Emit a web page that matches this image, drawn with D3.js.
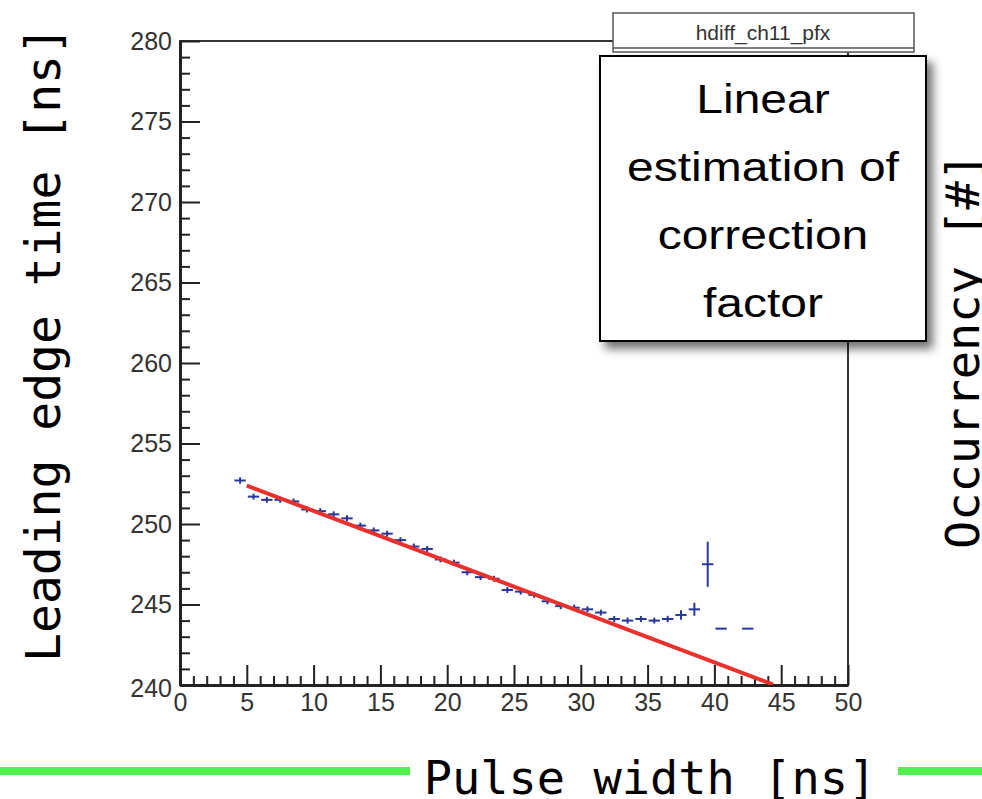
<!DOCTYPE html>
<html>
<head>
<style>
body { margin: 0; background: #fff; }
.tick text { font-family: "Liberation Sans", Arial, sans-serif; font-size: 25px; fill: #333; }
.tick line { stroke: #222; stroke-width: 2px; }
.domain { stroke: #222; stroke-width: 3px; }
</style>
<script src="https://d3js.org/d3.v7.min.js"></script>
</head>
<body>
<svg id="chart" width="982" height="799"></svg>
<script>
// bin centres [ns], profile means [ns], errors
var binCenters = [4.5, 5.5, 6.5, 7.5, 8.5, 9.5, 10.5, 11.5, 12.5, 13.5, 14.5, 15.5, 16.5, 17.5, 18.5, 19.5,
  20.5, 21.5, 22.5, 23.5, 24.5, 25.5, 26.5, 27.5, 28.5, 29.5, 30.5, 31.5, 32.5, 33.5, 34.5, 35.5,
  36.5, 37.5, 38.5, 39.5, 40.5, 42.5];
var meanTimes = [252.7, 251.7, 251.5, 251.5, 251.4, 250.9, 250.8, 250.6, 250.35, 249.9, 249.6, 249.4, 249.0, 248.6, 248.45, 247.8,
  247.6, 247.0, 246.7, 246.6, 245.9, 245.8, 245.6, 245.2, 244.9, 244.8, 244.7, 244.5, 244.1, 244.0, 244.1, 244.0,
  244.1, 244.35, 244.7, 247.5, 243.5, 243.5];
var meanErrors = [0.2, 0.1, 0.1, 0.1, 0.1, 0.1, 0.1, 0.1, 0.1, 0.1, 0.1, 0.1, 0.1, 0.1, 0.1, 0.1,
  0.1, 0.1, 0.1, 0.1, 0.1, 0.1, 0.1, 0.1, 0.1, 0.1, 0.1, 0.15, 0.15, 0.15, 0.15, 0.15,
  0.2, 0.3, 0.4, 1.4, 0, 0];
var binWidth = 1;

// linear fit end points [width, time]
var fitLine = [[5, 252.38], [44.4, 240.03]];

var xMajor = [0, 5, 10, 15, 20, 25, 30, 35, 40, 45, 50];
var yMajor = [240, 245, 250, 255, 260, 265, 270, 275, 280];

var histTitle = "hdiff_ch11_pfx";
var noteLines = ["Linear", "estimation of", "correction", "factor"];
var xTitle = "Pulse width [ns]";
var yTitle = "Leading edge time [ns]";
var y2Title = "Occurrency [#]";

var svg = d3.select("#chart");
var pL = 180, pR = 848, pT = 41, pB = 685;

var x = d3.scaleLinear().domain([0, 50]).range([pL, pR]);
var y = d3.scaleLinear().domain([240, 280]).range([pB, pT]);

var defs = svg.append("defs");
defs.append("clipPath").attr("id", "plotclip")
  .append("rect").attr("x", pL).attr("y", pT).attr("width", pR - pL).attr("height", pB - pT);
var shadow = defs.append("filter").attr("id", "shadow")
  .attr("x", "-10%").attr("y", "-10%").attr("width", "130%").attr("height", "130%");
shadow.append("feDropShadow").attr("dx", 6).attr("dy", 7).attr("stdDeviation", 5)
  .attr("flood-color", "#000").attr("flood-opacity", 0.55);

svg.append("rect").attr("width", 982).attr("height", 799).attr("fill", "#fff");

// frame
svg.append("rect").attr("x", pL).attr("y", pT).attr("width", pR - pL).attr("height", pB - pT)
  .attr("fill", "none").attr("stroke", "#333").attr("stroke-width", 2);

function minorTicks(a, b) {
  var out = [];
  for (var i = a; i <= b; i++) if (i % 5 !== 0) out.push(i);
  return out;
}

// y axis
svg.append("g").attr("transform", "translate(" + pL + ",0)")
  .call(d3.axisLeft(y).tickValues(yMajor).tickSizeInner(-20).tickSizeOuter(0).tickPadding(8).tickFormat(d3.format("d")));
svg.append("g").attr("transform", "translate(" + pL + ",0)")
  .call(d3.axisLeft(y).tickValues(minorTicks(240, 280)).tickSizeInner(-10).tickSizeOuter(0).tickFormat(""))
  .select(".domain").remove();

// x axis
svg.append("g").attr("transform", "translate(0," + pB + ")")
  .call(d3.axisBottom(x).tickValues(xMajor).tickSizeInner(-20).tickSizeOuter(0).tickPadding(8).tickFormat(d3.format("d")));
svg.append("g").attr("transform", "translate(0," + pB + ")")
  .call(d3.axisBottom(x).tickValues(minorTicks(0, 50)).tickSizeInner(-9).tickSizeOuter(0).tickFormat(""))
  .select(".domain").remove();

// the 240 label sits a little low, like ROOT draws it
svg.selectAll(".tick text").filter(function(d) { return d === 240; }).attr("dy", "0.45em");

// profile points
var pts = binCenters.map(function(c, i) { return { x: c, y: meanTimes[i], e: meanErrors[i] }; });
var marks = svg.append("g").attr("clip-path", "url(#plotclip)").attr("stroke", "#28389a").attr("stroke-width", 2);
marks.selectAll("line.h").data(pts).enter().append("line").attr("class", "h")
  .attr("x1", function(d) { return x(d.x - binWidth / 2) + 1; })
  .attr("x2", function(d) { return x(d.x + binWidth / 2) - 1; })
  .attr("y1", function(d) { return y(d.y); })
  .attr("y2", function(d) { return y(d.y); });
marks.selectAll("line.v").data(pts.filter(function(d) { return d.e > 0; })).enter().append("line").attr("class", "v")
  .attr("x1", function(d) { return x(d.x); })
  .attr("x2", function(d) { return x(d.x); })
  .attr("y1", function(d) { return Math.max(y(d.y - d.e), y(d.y) + 3); })
  .attr("y2", function(d) { return Math.min(y(d.y + d.e), y(d.y) - 3); });

// linear fit
svg.append("path").attr("clip-path", "url(#plotclip)")
  .attr("d", d3.line().x(function(d) { return x(d[0]); }).y(function(d) { return y(d[1]); })(fitLine))
  .attr("fill", "none").attr("stroke", "#e8302c").attr("stroke-width", 4);

// title box
svg.append("rect").attr("x", 613).attr("y", 13).attr("width", 301).attr("height", 39)
  .attr("fill", "#fff").attr("stroke", "#555").attr("stroke-width", 1.5);
svg.append("line").attr("x1", 613).attr("x2", 914).attr("y1", 48).attr("y2", 48).attr("stroke", "#555").attr("stroke-width", 1.5);
svg.append("text").attr("x", 763).attr("y", 40).attr("text-anchor", "middle")
  .style("font-family", "'Liberation Sans', Arial, sans-serif").style("font-size", "21px").attr("fill", "#333")
  .text(histTitle);

// note box
svg.append("rect").attr("x", 600).attr("y", 56).attr("width", 326).attr("height", 285)
  .attr("fill", "#fff").attr("stroke", "#000").attr("stroke-width", 2).attr("filter", "url(#shadow)");
var baselines = [113, 181, 249, 317];
noteLines.forEach(function(t, i) {
  svg.append("g").attr("transform", "translate(763," + baselines[i] + ") scale(1.17,1)")
    .append("text").attr("text-anchor", "middle")
    .style("font-family", "'Liberation Sans', Arial, sans-serif").style("font-size", "41px").attr("fill", "#000")
    .text(t);
});

// axis titles
var mono = "'DejaVu Sans Mono', monospace";
svg.append("text").attr("transform", "translate(60,344) rotate(-90)").attr("text-anchor", "middle")
  .style("font-family", mono).style("font-size", "48px").attr("fill", "#000").text(yTitle);
svg.append("text").attr("transform", "translate(979,351) rotate(-90)").attr("text-anchor", "middle")
  .style("font-family", mono).style("font-size", "47px").attr("fill", "#000").text(y2Title);

// green bar with x title
svg.append("rect").attr("x", 0).attr("y", 767).attr("width", 982).attr("height", 8).attr("fill", "#52f04c");
svg.append("rect").attr("x", 410).attr("y", 742).attr("width", 488).attr("height", 57).attr("fill", "#fff");
svg.append("text").attr("x", 650).attr("y", 794).attr("text-anchor", "middle")
  .style("font-family", mono).style("font-size", "47px").attr("fill", "#000").text(xTitle);
</script>
</body>
</html>
